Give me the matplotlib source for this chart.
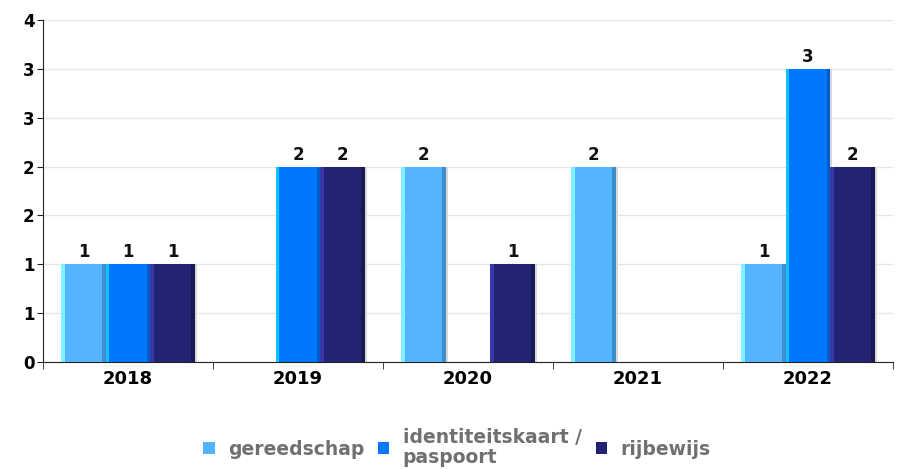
import numpy as np
import matplotlib.pyplot as plt
from matplotlib.patches import Patch

years = ['2018', '2019', '2020', '2021', '2022']
series = ['gereedschap', 'identiteitskaart /\npaspoort', 'rijbewijs']
gereedschap = [1, 0, 2, 2, 1]
identiteitskaart = [1, 2, 0, 0, 3]
rijbewijs = [1, 2, 1, 0, 2]
values = [gereedschap, identiteitskaart, rijbewijs]

colors = ['#55b4ff', '#0077ff', '#222473']
light = ['#7ff0ff', '#10c0ff', '#3838a8']
dark = ['#3c8fcc', '#005cc8', '#181a55']

fig = plt.figure(figsize=(9.01, 4.70), dpi=100)
ax = fig.add_axes([0.0477, 0.2298, 0.9434, 0.7277])

x = np.arange(len(years))
w = 0.262
edge = 0.022
for i, vals in enumerate(values):
    pos = x + (i - 1) * w
    v = np.array(vals, dtype=float)
    # soft shadow on the right side
    ax.bar(pos + 0.012, v, width=w, color='#d8d8d8', zorder=2)
    ax.bar(pos, v, width=w, color=colors[i], zorder=3)
    # left highlight / right shade to mimic the gradient look
    ax.bar(pos - w / 2 + edge / 2, v, width=edge, color=light[i], zorder=4)
    ax.bar(pos + w / 2 - edge / 2, v, width=edge, color=dark[i], zorder=4)
    for p, val in zip(pos, vals):
        if val > 0:
            ax.text(p, val + 0.03, str(val), ha='center', va='bottom',
                    fontsize=12, fontweight='bold', color='#111111', zorder=5)

ax.set_xlim(-0.5, len(years) - 0.5)
ax.set_ylim(0, 3.5)
yt = np.arange(0, 3.51, 0.5)
ax.set_yticks(yt)
ax.set_yticklabels([str(int(np.floor(t + 0.5))) for t in yt],
                   fontsize=12, fontweight='bold')
ax.yaxis.grid(True, color='#e6e6e6', linewidth=1, zorder=0)

ax.set_xticks(x)
ax.set_xticklabels(years, fontsize=13, fontweight='bold')
ax.tick_params(axis='x', length=0, pad=6)
ax.set_xticks(np.arange(-0.5, len(years), 1.0), minor=True)
ax.tick_params(axis='x', which='minor', length=5, color='#222222')
ax.tick_params(axis='y', length=4, color='#222222', pad=2)

for s in ['top', 'right']:
    ax.spines[s].set_visible(False)
ax.spines['left'].set_color('#222222')
ax.spines['bottom'].set_color('#222222')

handles = [Patch(facecolor=c, edgecolor='none') for c in colors]
leg = fig.legend(handles, series, loc='center', bbox_to_anchor=(0.507, 0.048),
                 ncol=3, frameon=False, handlelength=0.6, handleheight=0.6,
                 handletextpad=0.7, columnspacing=0.75, labelspacing=0.2,
                 prop={'weight': 'bold', 'size': 13.5})
for t in leg.get_texts():
    t.set_color('#707070')
    t.set_linespacing(1.05)

fig.savefig('out.png', dpi=100)
